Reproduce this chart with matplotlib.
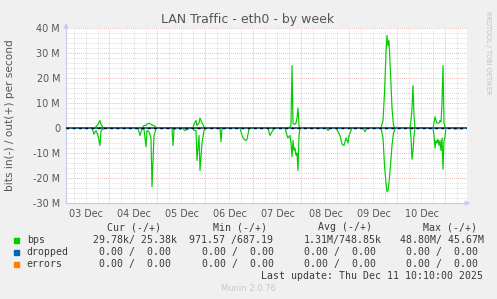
import matplotlib
matplotlib.use('Agg')
import numpy as np
from matplotlib import pyplot as plt

# time in hours from 03 Dec 00:00, traffic in Mbit/s
hours = [2.25, 15.25, 16.25, 17.25, 18.25, 19.25, 19.75, 20.75, 21.75,
         38.25, 39.25, 40.25, 41.25, 42.25, 42.75, 43.75, 44.75, 45.25, 46.25, 47.25, 48.25,
         55.25, 55.75, 56.25, 58.25, 59.25, 60.25, 61.75, 63.25, 64.25,
         65.75, 66.25, 67.25, 67.75, 68.75, 69.25, 70.25, 71.25, 72.25,
         79.25, 79.75, 80.25, 81.25,
         89.25, 90.25, 91.25, 92.25, 92.75, 93.75, 94.25,
         103.25, 104.25, 105.25, 106.25,
         111.75, 112.75, 113.25, 114.25, 114.75, 115.25, 115.75, 116.25, 116.75, 117.25,
         117.75, 118.25, 118.75, 119.25,
         132.25, 133.25, 134.25,
         137.25, 138.25, 139.25, 140.25, 141.25, 142.25, 143.25, 143.75, 144.75, 145.25,
         150.75, 151.75, 152.75,
         159.75, 160.75, 161.5, 162.25, 162.75, 163.25, 163.75, 164.5, 165.25, 166.0,
         166.75, 167.25, 168.0,
         174.25, 174.75, 175.25, 175.75, 176.25, 176.75,
         185.75, 186.25, 186.75, 187.25, 187.75, 188.25, 188.75, 189.25, 189.75, 190.25,
         190.75, 191.25, 191.75, 192.25,
         196.75, 200.25, 201.25, 202.75]
bps_out = [0.1, 0, 0, 0.5, 1.5, 3, 1.5, 0, 0,
           0, 0, 0, 1, 1, 1.5, 2, 1.5, 1.2, 1, 0.3, 0,
           0, 0, 0, 0, 0, 0, 0, 0, 0,
           0, 1.5, 3, 1, 2, 4, 2, 0.5, 0,
           0, 0, 0, 0,
           0, 0, 0, 0, 0, 0, 0,
           0, 0, 0, 0,
           0, 0, 0, 0.5, 1, 25, 2, 1.5, 1.5, 2,
           4, 8, 1, 0,
           0, 0, 0,
           0, 0, 0, 0, 0, 0, 0, 0, 0, 0,
           0, 0, 0,
           0, 3, 14, 30, 37, 33, 35, 22, 8, 1,
           0, 0.3, 0,
           0, 3, 8, 17, 5, 0,
           0, 2, 4.5, 3, 2, 2, 2, 3, 2.5, 10,
           25, 2, 0.5, 0,
           0, 0, 0, 0]
bps_in = [0.2, 0, 2.5, 1, 3, 7, 1, 0.5, 0,
          0, 3, 0.3, 0.5, 7.5, 1, 1.5, 4, 23.5, 3, 0.3, 0,
          0, 7, 0.5, 0, 0.5, 0, 1, 0.5, 0,
          0, 1, 1, 13, 3, 17, 6, 1, 0,
          0, 5.5, 0.3, 0,
          0, 3, 4.5, 5, 4.5, 0.5, 0,
          0, 3, 1.5, 0,
          0, 3, 4, 3, 6, 11.5, 5, 9, 8, 11,
          10, 17, 3, 0,
          0, 1, 0,
          0, 1.5, 3, 6.5, 7, 4, 6, 3, 1, 0,
          0, 1.5, 0,
          0, 4, 15, 22, 25.5, 25, 22, 15, 7, 2,
          0.5, 0, 0,
          0, 4, 12.5, 9, 3, 0,
          0, 3, 8, 5, 6, 4.5, 7, 5, 9, 4,
          16.5, 5, 3.5, 0,
          0.3, 0.3, 0, 0]
flat_hours = [2.25, 202.75]
dropped = [0, 0]
errors = [0, 0]

day_labels = ['03 Dec', '04 Dec', '05 Dec', '06 Dec', '07 Dec', '08 Dec', '09 Dec', '10 Dec']
y_ticks = [-30, -20, -10, 0, 10, 20, 30, 40]
y_labels = ['-30 M', '-20 M', '-10 M', '0', '10 M', '20 M', '30 M', '40 M']

legend_names = ['bps', 'dropped', 'errors']
legend_colors = ['#00cc00', '#0066b3', '#ff8000']
cur_vals = ['29.78k/ 25.38k', '0.00 /  0.00', '0.00 /  0.00']
min_vals = ['971.57 /687.19', '0.00 /  0.00', '0.00 /  0.00']
avg_vals = ['1.31M/748.85k', '0.00 /  0.00', '0.00 /  0.00']
max_vals = ['48.80M/ 45.67M', '0.00 /  0.00', '0.00 /  0.00']

W, H = 497, 299
def fx(px):
    return px / W
def fy(py):
    return 1 - py / H

fig = plt.figure(figsize=(W / 100, H / 100), dpi=100, facecolor='#f0f0f0')
ax = fig.add_axes([fx(66), fy(203), 401 / W, 175 / H])
ax.set_facecolor('white')
ax.set_xlim(2.25, 202.75)
ax.set_ylim(-30, 40)

# grid like rrdtool: minor gray, major red
for h in np.arange(6, 203, 6):
    ax.axvline(h, color='#e8a0a0' if h % 24 == 0 else '#d0d0d0', lw=0.6,
               ls=(0, (1, 1.5)), zorder=0)
for v in np.arange(-30, 41, 2):
    ax.axhline(v, color='#e8a0a0' if v % 10 == 0 else '#d0d0d0', lw=0.6,
               ls=(0, (1, 1.5)), zorder=0)

out_arr = np.array(bps_out)
in_arr = np.array(bps_in)
ax.plot(hours, out_arr, color='#00cc00', lw=0.85, zorder=3)
ax.plot(hours, -in_arr, color='#00cc00', lw=0.85, zorder=3)
ax.plot(flat_hours, errors, color='#ff8000', lw=1.2, zorder=4)
ax.plot(flat_hours, dropped, color='#0066b3', lw=1.2, zorder=4)
ax.plot(flat_hours, dropped, color='black', lw=1.0, ls=(0, (2, 2.5)), zorder=4)

ax.set_yticks(y_ticks)
ax.set_yticklabels(y_labels)
ax.set_xticks([24 * i + 12 for i in range(len(day_labels))])
ax.set_xticklabels(day_labels)
ax.tick_params(axis='both', length=0, labelsize=6.9, labelcolor='#555555')
ax.tick_params(axis='y', pad=4.3)
ax.tick_params(axis='x', pad=4)

for s in ['top', 'right']:
    ax.spines[s].set_visible(False)
for s in ['left', 'bottom']:
    ax.spines[s].set_color('#c8c8f0')
    ax.spines[s].set_linewidth(0.8)
ax.annotate('', xy=(0, 1.045), xytext=(0, 0.99), xycoords='axes fraction',
            arrowprops=dict(arrowstyle='-|>', color='#c8c8f0', lw=0.8, mutation_scale=7))
ax.annotate('', xy=(1.015, 0), xytext=(0.99, 0), xycoords='axes fraction',
            arrowprops=dict(arrowstyle='-|>', color='#c8c8f0', lw=0.8, mutation_scale=7))

fig.text(fx(248), fy(19), 'LAN Traffic - eth0 - by week', ha='center', va='center',
         fontsize=9, color='#555555')
fig.text(fx(10), fy(115), 'bits in(-) / out(+) per second', rotation=90,
         ha='center', va='center', fontsize=7.6, color='#555555')
fig.text(fx(488), fy(53), 'RRDTOOL / TOBI OETIKER', rotation=270,
         ha='center', va='center', fontsize=4.7, color='#c0c0c0')

mono = dict(family='DejaVu Sans Mono', fontsize=7.1, color='#3a3a3a', va='center')
fig.text(fx(107.3), fy(227.3), 'Cur (-/+)', **mono)
fig.text(fx(212.7), fy(227.3), 'Min (-/+)', **mono)
fig.text(fx(318.3), fy(227.3), 'Avg (-/+)', **mono)
fig.text(fx(422.7), fy(227.3), 'Max (-/+)', **mono)

rows_y = [240, 252, 264]
for i, name in enumerate(legend_names):
    y = rows_y[i]
    fig.patches.append(plt.Rectangle((fx(13.5), fy(y + 2.5)), 5 / W, 5 / H,
                                     transform=fig.transFigure, color=legend_colors[i]))
    fig.text(fx(26.7), fy(y), name, **mono)
    if i == 0:
        xs = [93.3, 189.3, 304, 400]
    else:
        xs = [99.3, 201.7, 304, 406]
    for x, val in zip(xs, [cur_vals[i], min_vals[i], avg_vals[i], max_vals[i]]):
        fig.text(fx(x), fy(y), val, **mono)

fig.text(fx(482.7), fy(275.7), 'Last update: Thu Dec 11 10:10:00 2025', ha='right', **mono)
fig.text(fx(248), fy(288.3), 'Munin 2.0.76', ha='center', va='center', fontsize=6,
         color='#c8c8c8')

fig.savefig('out.png', dpi=100, facecolor=fig.get_facecolor())
